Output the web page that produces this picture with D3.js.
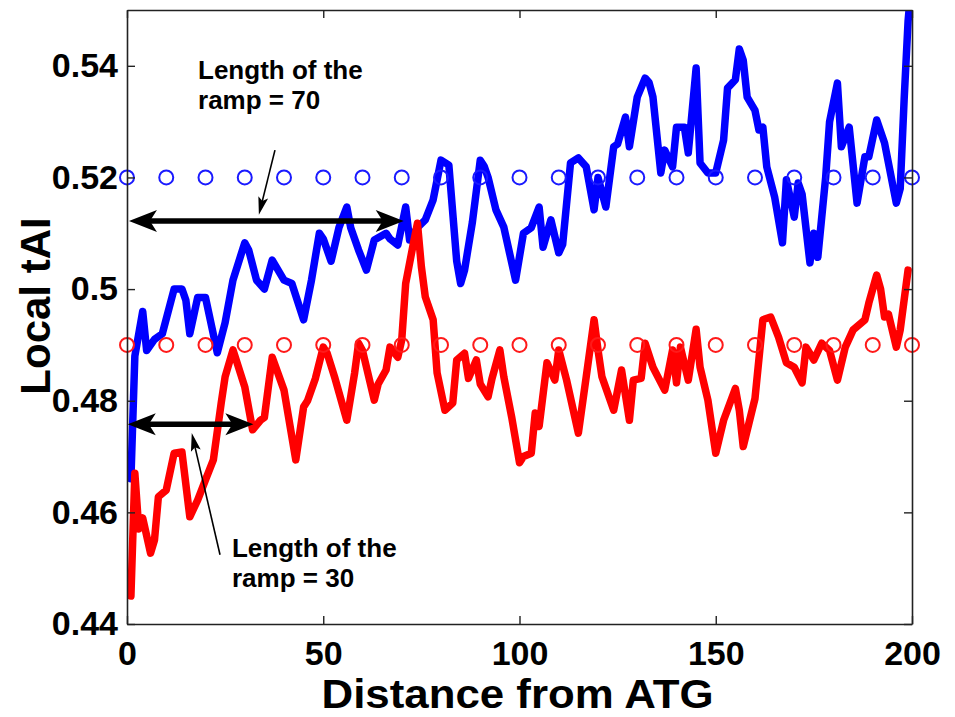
<!DOCTYPE html>
<html>
<head>
<meta charset="utf-8">
<script src="https://cdn.jsdelivr.net/npm/d3@7"></script>
<style>
  html, body { margin: 0; padding: 0; background: #fff; }
  svg { display: block; }
  text { font-family: "Liberation Sans", Arial, Helvetica, sans-serif; font-weight: bold; fill: #000; }
</style>
</head>
<body>
<svg id="chart" width="955" height="717"></svg>
<script>
// ---------------- DATA ----------------
const xTicks = [0, 50, 100, 150, 200];
const yTicks = [0.44, 0.46, 0.48, 0.5, 0.52, 0.54];
const yTickLabels = ["0.44", "0.46", "0.48", "0.5", "0.52", "0.54"];

const xLabel = "Distance from ATG";
const yLabel = "Local tAI";

// Blue series (longer ramp)
const blueX = [1,2,4,5,7,9,12,14,15,16,18,20,23,25,27,30,31,33,35,37,40,42,45,47,49,50,52,54,56,57,59,61,63,66,67,69,71,72,74,76,78,80,82,84,85,86,88,90,91,92,94,96,99,101,103,105,106,108,110,111,113,115,117,119,120,122,124,125,127,128,130,132,133,134,136,137,139,140,142,143,145,146,148,150,152,153,155,156,157,158,160,161,162,163,165,167,168,170,171,172,174,175,176,178,179,181,182,184,186,188,189,191,193,196,197,198,199,200];
const blueY = [0.466,0.488,0.496,0.489,0.491,0.492,0.500,0.500,0.498,0.492,0.4985,0.4985,0.4886,0.494,0.5016,0.5083,0.507,0.5016,0.500,0.5052,0.5016,0.501,0.4945,0.5016,0.510,0.509,0.505,0.511,0.5147,0.511,0.507,0.5034,0.5088,0.510,0.509,0.5079,0.5147,0.5088,0.511,0.5124,0.516,0.5231,0.5222,0.505,0.501,0.5034,0.512,0.5231,0.522,0.520,0.5142,0.5111,0.5016,0.510,0.511,0.5147,0.5075,0.5124,0.5065,0.508,0.5226,0.5235,0.5219,0.5142,0.520,0.5147,0.5255,0.526,0.5308,0.5255,0.5344,0.5378,0.537,0.5344,0.5208,0.5249,0.5219,0.529,0.529,0.5244,0.5396,0.5226,0.5208,0.5208,0.5267,0.536,0.5375,0.543,0.541,0.5344,0.532,0.5285,0.529,0.5219,0.5165,0.5083,0.5196,0.5129,0.519,0.517,0.5047,0.510,0.5057,0.520,0.530,0.5369,0.5255,0.529,0.5154,0.5237,0.5237,0.5303,0.5262,0.5154,0.518,0.534,0.548,0.556];

// Red series (shorter ramp)
const redX = [1,2,3,4,6,7,8,10,12,14,16,18,20,22,24,25,27,30,32,34,35,37,40,43,45,46,48,50,51,53,56,58,59,60,63,64,66,67,69,70,71,73,74,75,76,78,79,81,83,84,86,87,89,90,92,93,95,96,98,100,101,103,104,105,107,109,110,112,115,117,119,120,121,124,126,128,129,131,132,134,137,139,140,141,143,145,146,148,150,152,155,156,157,160,162,164,166,168,170,172,173,175,177,179,181,183,185,188,189,191,192,193,194,196,197,199];
const redY = [0.445,0.467,0.457,0.459,0.4527,0.455,0.4628,0.464,0.4706,0.4708,0.4592,0.4622,0.4658,0.4694,0.4796,0.4843,0.4891,0.4825,0.4748,0.4765,0.477,0.4878,0.4819,0.4694,0.4789,0.480,0.484,0.4896,0.4885,0.484,0.4765,0.485,0.4903,0.489,0.4801,0.483,0.4855,0.4896,0.4878,0.4909,0.501,0.5083,0.5118,0.504,0.4986,0.4945,0.485,0.4783,0.4796,0.4873,0.4885,0.484,0.4873,0.483,0.4807,0.484,0.4891,0.4843,0.4771,0.4689,0.470,0.4706,0.4778,0.4754,0.4868,0.4837,0.4891,0.4837,0.4742,0.4843,0.4945,0.4891,0.4843,0.4783,0.4855,0.4765,0.4837,0.484,0.4903,0.486,0.4819,0.4891,0.4832,0.4896,0.4837,0.4928,0.486,0.4801,0.4706,0.4765,0.4822,0.4783,0.4718,0.4804,0.4945,0.495,0.4914,0.4868,0.486,0.4832,0.4896,0.4873,0.4903,0.489,0.4837,0.4896,0.4927,0.4945,0.4975,0.5025,0.500,0.495,0.4955,0.4896,0.4927,0.5034];

// Reference-level circle markers
const markerX = [0,10,20,30,40,50,60,70,80,90,100,110,120,130,140,150,160,170,180,190,200];
const blueLevel = 0.52;
const redLevel = 0.49;

// Annotations (data units)
const rampArrows = [
  { x1: 0.5, x2: 70.5, y: 0.5122 },
  { x1: 0.2, x2: 32.2, y: 0.4758 }
];
const pointerArrows = [
  { x1: 37.7, y1: 0.5249, x2: 33.6, y2: 0.5133 },
  { x1: 23.7, y1: 0.4524, x2: 16.5, y2: 0.4742 }
];
const noteLines = [
  { x: 18.1, y: 0.5376, lines: ["Length of the", "ramp = 70"] },
  { x: 26.75, y: 0.4520, lines: ["Length of the", "ramp = 30"] }
];

// ---------------- CHART ----------------
(function () {
const svg = d3.select("#chart");
const pL = 127, pR = 912, pT = 10, pB = 624;

const x = d3.scaleLinear().domain([0, 200]).range([pL, pR]);
const y = d3.scaleLinear().domain([0.44, 0.55]).range([pB, pT]);

svg.append("defs").append("clipPath").attr("id", "plotclip")
  .append("rect").attr("x", pL).attr("y", pT).attr("width", pR - pL).attr("height", pB - pT);

const plot = svg.append("g").attr("clip-path", "url(#plotclip)");

const line = d3.line().x(d => x(d[0])).y(d => y(d[1]));

plot.append("path")
  .datum(blueX.map((v, i) => [v, blueY[i]]))
  .attr("d", line)
  .attr("fill", "none").attr("stroke", "#0000ff").attr("stroke-width", 7.5)
  .attr("stroke-linejoin", "round").attr("stroke-linecap", "round");

plot.append("path")
  .datum(redX.map((v, i) => [v, redY[i]]))
  .attr("d", line)
  .attr("fill", "none").attr("stroke", "#ff0000").attr("stroke-width", 7.5)
  .attr("stroke-linejoin", "round").attr("stroke-linecap", "round");

const mk = svg.append("g");
mk.selectAll("circle.b").data(markerX).join("circle")
  .attr("class", "b").attr("cx", d => x(d)).attr("cy", y(blueLevel)).attr("r", 7)
  .attr("fill", "none").attr("stroke", "#1a1aff").attr("stroke-width", 2);
mk.selectAll("circle.r").data(markerX).join("circle")
  .attr("class", "r").attr("cx", d => x(d)).attr("cy", y(redLevel)).attr("r", 7)
  .attr("fill", "none").attr("stroke", "#ff1a1a").attr("stroke-width", 2);

// Axes (box with inward ticks)
const tick = 8;
const axB = svg.append("g").attr("transform", `translate(0,${pB})`)
  .call(d3.axisBottom(x).tickValues(xTicks).tickSizeInner(-tick).tickSizeOuter(0).tickPadding(17).tickFormat(d3.format("d")));
const axT = svg.append("g").attr("transform", `translate(0,${pT})`)
  .call(d3.axisTop(x).tickValues(xTicks).tickSizeInner(-tick).tickSizeOuter(0).tickFormat(""));
const axL = svg.append("g").attr("transform", `translate(${pL},0)`)
  .call(d3.axisLeft(y).tickValues(yTicks).tickSizeInner(-tick).tickSizeOuter(0).tickPadding(9)
    .tickFormat((d, i) => yTickLabels[i]));
const axR = svg.append("g").attr("transform", `translate(${pR},0)`)
  .call(d3.axisRight(y).tickValues(yTicks).tickSizeInner(-tick).tickSizeOuter(0).tickFormat(""));

[axB, axT, axL, axR].forEach(a => {
  a.select(".domain").attr("stroke", "#222").attr("stroke-width", 1.6);
  a.selectAll(".tick line").attr("stroke", "#222").attr("stroke-width", 1.4);
  a.selectAll("text").attr("font-size", 34).attr("font-weight", "bold")
    .attr("font-family", '"Liberation Sans", Arial, Helvetica, sans-serif').attr("fill", "#000");
});
axB.selectAll("text").attr("y", 17);

// Axis titles
svg.append("text").attr("x", (pL + pR) / 2 - 2).attr("y", 708)
  .attr("text-anchor", "middle").attr("font-size", 40)
  .attr("textLength", 392).attr("lengthAdjust", "spacingAndGlyphs").text(xLabel);
svg.append("text").attr("transform", `translate(50,306) rotate(-90)`)
  .attr("text-anchor", "middle").attr("font-size", 42).text(yLabel);

// Annotations
const ann = svg.append("g");
function head(tx, ty, ux, uy, L, w, notch) {
  const px = -uy, py = ux;
  const bx = tx - ux * L, by = ty - uy * L;
  const nx = tx - ux * L * notch, ny = ty - uy * L * notch;
  return [[tx, ty], [bx + px * w, by + py * w], [nx, ny], [bx - px * w, by - py * w]];
}
rampArrows.forEach(a => {
  const x1 = x(a.x1), x2 = x(a.x2), yy = y(a.y);
  ann.append("line").attr("x1", x1 + 18).attr("x2", x2 - 18).attr("y1", yy).attr("y2", yy)
    .attr("stroke", "#000").attr("stroke-width", 5.5);
  ann.append("polygon").attr("points", head(x1, yy, -1, 0, 28, 11, 0.75).join(" ")).attr("fill", "#000");
  ann.append("polygon").attr("points", head(x2, yy, 1, 0, 28, 11, 0.75).join(" ")).attr("fill", "#000");
});
pointerArrows.forEach(a => {
  const x1 = x(a.x1), y1 = y(a.y1), x2 = x(a.x2), y2 = y(a.y2);
  const len = Math.hypot(x2 - x1, y2 - y1), ux = (x2 - x1) / len, uy = (y2 - y1) / len;
  ann.append("line").attr("x1", x1).attr("y1", y1).attr("x2", x2 - ux * 10).attr("y2", y2 - uy * 10)
    .attr("stroke", "#000").attr("stroke-width", 1.6);
  ann.append("polygon").attr("points", head(x2, y2, ux, uy, 18, 5, 0.8).join(" ")).attr("fill", "#000");
});
noteLines.forEach(n => {
  const t = ann.append("text").attr("x", x(n.x)).attr("y", y(n.y)).attr("font-size", 26);
  n.lines.forEach((s, i) => {
    t.append("tspan").attr("x", x(n.x)).attr("dy", i === 0 ? 0 : 30).text(s);
  });
});
})();
</script>
</body>
</html>
